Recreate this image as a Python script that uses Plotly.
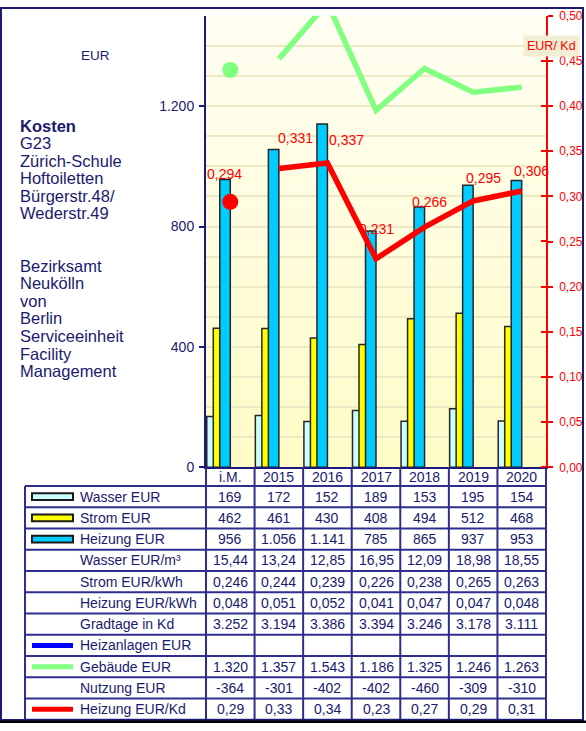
import plotly.graph_objects as go

# ---------------- data ----------------
categories = ["i.M.", "2015", "2016", "2017", "2018", "2019", "2020"]
wasser_eur = [169, 172, 152, 189, 153, 195, 154]
strom_eur = [462, 461, 430, 408, 494, 512, 468]
heizung_eur = [956, 1056, 1141, 785, 865, 937, 953]
wasser_eur_m3 = [15.44, 13.24, 12.85, 16.95, 12.09, 18.98, 18.55]
strom_eur_kwh = [0.246, 0.244, 0.239, 0.226, 0.238, 0.265, 0.263]
heizung_eur_kwh = [0.048, 0.051, 0.052, 0.041, 0.047, 0.047, 0.048]
gradtage_kd = [3252, 3194, 3386, 3394, 3246, 3178, 3111]
heizanlagen_eur = [None, None, None, None, None, None, None]
gebaeude_eur = [1320, 1357, 1543, 1186, 1325, 1246, 1263]
nutzung_eur = [-364, -301, -402, -402, -460, -309, -310]
heizung_eur_kd = [0.294, 0.331, 0.337, 0.231, 0.266, 0.295, 0.306]

left_ticks = [0, 400, 800, 1200]

title_lines = ["Kosten", "G23", "Zürich-Schule", "Hoftoiletten", "Bürgerstr.48/", "Wederstr.49"]
org_lines = ["Bezirksamt", "Neukölln", "von", "Berlin", "Serviceeinheit", "Facility", "Management"]

# ---------------- helpers / style ----------------
W, H = 586, 731
def px(x): return x / W
def py(y): return 1 - y / H

PL, PR, PT, PB = 206, 546, 9, 470
TL, TT, RH = 25, 489, 21.7
TXT = "#1A1A6E"
GRID_LINE = "#2E2E8E"
FONT = "Liberation Sans, Arial, sans-serif"
RED = "#FF0000"
GREEN = "#80FF80"

def fmt_int(v):
    return f"{v:,}".replace(",", ".")

def fmt_dec(v, n):
    return f"{v:.{n}f}".replace(".", ",")

fig = go.Figure()

BW = 0.216
for name, vals, col, off in [("Wasser EUR", wasser_eur, "#CCFFFF", -0.484),
                             ("Strom EUR", strom_eur, "#FFFF00", -0.350),
                             ("Heizung EUR", heizung_eur, "#00CCFF", -0.216)]:
    fig.add_trace(go.Bar(x=categories, y=vals, width=BW, offset=off, name=name,
                         marker=dict(color=col, line=dict(color="#262626", width=1.5))))

fig.add_trace(go.Scatter(x=categories[1:], y=gebaeude_eur[1:], mode="lines",
                         line=dict(color=GREEN, width=5.5), name="Gebäude EUR"))
fig.add_trace(go.Scatter(x=categories[:1], y=gebaeude_eur[:1], mode="markers",
                         marker=dict(color=GREEN, size=16), name="Gebäude EUR i.M."))
fig.add_trace(go.Scatter(x=categories[1:], y=heizung_eur_kd[1:], mode="lines", yaxis="y2",
                         line=dict(color=RED, width=5.5), name="Heizung EUR/Kd"))
fig.add_trace(go.Scatter(x=categories[:1], y=heizung_eur_kd[:1], mode="markers", yaxis="y2",
                         marker=dict(color=RED, size=16), name="Heizung EUR/Kd i.M."))

annotations = []
# red value labels (pixel shifts are styling); x is the category index
label_shift = [(-6, 28), (17, 30), (19, 23), (0, 30), (5, 25), (10, 23), (10, 20)]
for i, (v, (dx, dy)) in enumerate(zip(heizung_eur_kd, label_shift)):
    annotations.append(dict(x=i, y=v, xref="x", yref="y2", text=fmt_dec(v, 3), showarrow=False,
                            xanchor="center", yanchor="middle",
                            xshift=dx, yshift=dy, font=dict(family=FONT, size=14, color=RED)))

annotations.append(dict(x=px(95), y=py(50), xref="paper", yref="paper", text="EUR", showarrow=False,
                        xanchor="center", yanchor="middle",
                        font=dict(family=FONT, size=13.5, color=TXT)))
annotations.append(dict(x=px(551), y=py(40), xref="paper", yref="paper", text="EUR/ Kd", showarrow=False,
                        xanchor="center", yanchor="middle",
                        bgcolor="#F1EED3", borderpad=3, font=dict(family=FONT, size=12.5, color=RED)))

for i, t in enumerate(title_lines):
    annotations.append(dict(x=px(18), y=py(121.5 + 17.8 * i), xref="paper", yref="paper",
                            text=f"<b>{t}</b>" if i == 0 else t, showarrow=False,
                            xanchor="left", yanchor="middle",
                            font=dict(family=FONT, size=16.5, color=TXT)))
for i, t in enumerate(org_lines):
    annotations.append(dict(x=px(18), y=py(264 + 18 * i), xref="paper", yref="paper",
                            text=t, showarrow=False, xanchor="left", yanchor="middle",
                            font=dict(family=FONT, size=16.5, color=TXT)))

# header row (category labels) under the x axis
for i, c in enumerate(categories):
    annotations.append(dict(x=i, y=py((PB + TT) / 2), xref="x", yref="paper", text=c, showarrow=False,
                            xanchor="center", yanchor="middle",
                            font=dict(family=FONT, size=14, color=TXT)))

# table rows
rows = [
    ("Wasser EUR", [fmt_int(v) for v in wasser_eur], ("rect", "#CCFFFF")),
    ("Strom EUR", [fmt_int(v) for v in strom_eur], ("rect", "#FFFF00")),
    ("Heizung EUR", [fmt_int(v) for v in heizung_eur], ("rect", "#00CCFF")),
    ("Wasser EUR/m³", [fmt_dec(v, 2) for v in wasser_eur_m3], None),
    ("Strom EUR/kWh", [fmt_dec(v, 3) for v in strom_eur_kwh], None),
    ("Heizung EUR/kWh", [fmt_dec(v, 3) for v in heizung_eur_kwh], None),
    ("Gradtage in Kd", [fmt_int(v) for v in gradtage_kd], None),
    ("Heizanlagen EUR", ["" if v is None else fmt_int(v) for v in heizanlagen_eur], ("line", "#0000FF")),
    ("Gebäude EUR", [fmt_int(v) for v in gebaeude_eur], ("line", GREEN)),
    ("Nutzung EUR", [fmt_int(v) for v in nutzung_eur], None),
    ("Heizung EUR/Kd", [fmt_dec(v, 2) for v in heizung_eur_kd], ("line", RED)),
]

shapes = []
# background gradient inside the plot area
N = 40
top_rgb = (255, 254, 242)
bot_rgb = (255, 252, 198)
for k in range(N):
    f = (k + 0.5) / N
    r = [round(bot_rgb[j] + (top_rgb[j] - bot_rgb[j]) * f) for j in range(3)]
    shapes.append(dict(type="rect", xref="x domain", yref="y domain", x0=0, x1=1,
                       y0=k / N, y1=(k + 1) / N, fillcolor=f"rgb({r[0]},{r[1]},{r[2]})",
                       line=dict(width=0), layer="below"))

n_rows = len(rows)
TB = TT + RH * n_rows
for r, (label, vals, sym) in enumerate(rows):
    yc = TT + RH * (r + 0.5)
    annotations.append(dict(x=px(77.5), y=py(yc), xref="paper", yref="paper", text=label,
                            showarrow=False, xanchor="left", yanchor="middle",
                            font=dict(family=FONT, size=14, color=TXT)))
    for i, t in enumerate(vals):
        if t:
            annotations.append(dict(x=i, y=py(yc), xref="x", yref="paper", text=t, showarrow=False,
                                    xanchor="center", yanchor="middle",
                                    font=dict(family=FONT, size=14, color=TXT)))
    if sym:
        kind, col = sym
        if kind == "rect":
            shapes.append(dict(type="rect", xref="paper", yref="paper", x0=px(32), x1=px(73),
                               y0=py(yc + 3.5), y1=py(yc - 3.5), fillcolor=col,
                               line=dict(color="#1A1A1A", width=2)))
        else:
            shapes.append(dict(type="line", xref="paper", yref="paper", x0=px(32), x1=px(73),
                               y0=py(yc), y1=py(yc), line=dict(color=col, width=5)))

# table grid
for r in range(n_rows + 1):
    y = TT + RH * r
    shapes.append(dict(type="line", xref="paper", yref="paper", x0=px(TL), x1=px(PR),
                       y0=py(y), y1=py(y), line=dict(color=GRID_LINE, width=2)))
shapes.append(dict(type="line", xref="paper", yref="paper", x0=px(TL), x1=px(TL),
                   y0=py(TT), y1=py(TB), line=dict(color=GRID_LINE, width=2)))
colw = (PR - PL) / len(categories)
for i in range(len(categories) + 1):
    x = PL + colw * i
    shapes.append(dict(type="line", xref="paper", yref="paper", x0=px(x), x1=px(x),
                       y0=py(PB), y1=py(TB), line=dict(color=GRID_LINE, width=2)))

# outer frame and shadow
shapes.append(dict(type="rect", xref="paper", yref="paper", x0=px(1), x1=px(583),
                   y0=py(728), y1=py(1), line=dict(color="#1A1A6E", width=2)))
shapes.append(dict(type="rect", xref="paper", yref="paper", x0=0, x1=1,
                   y0=py(731), y1=py(728.5), fillcolor="#000000", line=dict(width=0)))

fig.update_layout(
    width=W, height=H,
    margin=dict(l=0, r=0, t=0, b=0),
    paper_bgcolor="white", plot_bgcolor="rgba(0,0,0,0)",
    separators=",.",
    barmode="overlay",
    showlegend=False,
    font=dict(family=FONT, color=TXT),
    xaxis=dict(type="category", categoryorder="array", categoryarray=categories,
               range=[-0.5, 6.5], domain=[px(PL), px(PR)], showline=True,
               linecolor="#1A1A7E", linewidth=2, ticks="", showticklabels=False,
               showgrid=False, zeroline=False),
    yaxis=dict(domain=[py(PB), py(PT)], range=[0, 1500], tickvals=left_ticks,
               separatethousands=True, tickformat=",d",
               showline=True, linecolor="#1A1A7E", linewidth=2,
               ticks="outside", ticklen=5, tickcolor="#1A1A7E", tickwidth=1.5,
               tickfont=dict(family=FONT, size=14, color=TXT), ticklabelstandoff=2,
               showgrid=True, gridcolor="#ECE9C6", gridwidth=1.5, zeroline=False,
               minor=dict(dtick=100, tick0=0, showgrid=True, gridcolor="#ECE9C6", gridwidth=1.5)),
    yaxis2=dict(overlaying="y", side="right", anchor="x", range=[0, 0.5], dtick=0.05, tick0=0,
                tickformat=".2f", showline=True, linecolor=RED, linewidth=1.5,
                ticks="outside", ticklen=5, tickcolor=RED, tickwidth=1.5,
                tickfont=dict(family=FONT, size=12, color=RED), ticklabelstandoff=4,
                showgrid=False, zeroline=False,
                minor=dict(ticks="inside", ticklen=5, tickcolor=RED, tickwidth=1.5,
                           tick0=0.0002, dtick=0.05, showgrid=False)),
    annotations=annotations,
    shapes=shapes,
)

fig.write_html("out.html", config={"displayModeBar": False},
               post_script="document.body.style.margin='0';document.body.style.overflow='hidden';")
